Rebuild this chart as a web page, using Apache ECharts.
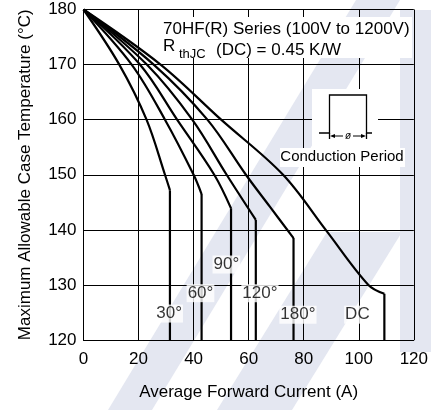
<!DOCTYPE html>
<html>
<head>
<meta charset="utf-8">
<script src="https://cdn.jsdelivr.net/npm/echarts@6/dist/echarts.min.js"></script>
<style>
  html, body { margin: 0; padding: 0; background: #fff; }
  #chart { width: 431px; height: 410px; }
</style>
</head>
<body>
<div id="chart"></div>
<script>
// conduction angles, one curve each
const curveNames = ['30°', '60°', '90°', '120°', '180°', 'DC'];

// average forward current (A) / max case temperature (°C)
// last point of each list is the bottom of the vertical drop
const current30 = [0, 13, 22.9, 29.6, 31.4, 31.4];
const temp30 = [180, 170, 160, 150, 147.2, 120];
const current60 = [0, 17.5, 29.6, 40, 42.9, 42.9];
const temp60 = [180, 170, 160, 150, 146.5, 120];
const current90 = [0, 20.5, 34, 47.5, 53.6, 53.6];
const temp90 = [180, 170, 160, 150, 143.9, 120];
const current120 = [0, 23, 39.5, 52, 62.6, 62.6];
const temp120 = [180, 170, 160, 150, 141.8, 120];
const current180 = [0, 25.5, 45, 59, 67.7, 76.3, 76.3];
const temp180 = [180, 170, 160, 150, 144.2, 138.5, 120];
const currentDC = [0, 28, 50, 72.5, 88, 103.5, 109.3, 109.3];
const tempDC = [180, 170, 160, 150, 140, 130, 128.4, 120];

// where the angle labels sit (data coords)
const labelCurrent = [31.1, 42.5, 51.9, 64.1, 77.9, 99.5];
const labelTemp = [124.8, 128.5, 133.7, 128.5, 124.6, 124.6];

const xMin = 0, xMax = 120, xStep = 20;
const yMin = 120, yMax = 180, yStep = 10;

const FONT = '"Liberation Sans", Arial, sans-serif';
const WM = '#e4e7f1';

const curves = [
  [current30, temp30], [current60, temp60], [current90, temp90],
  [current120, temp120], [current180, temp180], [currentDC, tempDC]
];

const lineSeries = [];
curves.forEach(function (c, i) {
  const pts = c[0].map(function (x, j) { return [x, c[1][j]]; });
  // the bent part is smooth, the drop after the knee is straight
  lineSeries.push({
    name: curveNames[i],
    type: 'line',
    data: pts.slice(0, -1),
    smooth: 0.35,
    symbol: 'none',
    lineStyle: { color: '#000', width: 2.2 },
    z: 3
  });
  lineSeries.push({
    name: curveNames[i],
    type: 'line',
    data: pts.slice(-2),
    symbol: 'none',
    lineStyle: { color: '#000', width: 2.2 },
    z: 3
  });
});

const labelSeries = {
  type: 'scatter',
  symbolSize: 0,
  data: curveNames.map(function (n, i) {
    return { name: n, value: [labelCurrent[i], labelTemp[i]] };
  }),
  label: {
    show: true,
    position: 'inside',
    formatter: function (p) { return p.name; },
    color: '#000',
    fontFamily: FONT,
    fontSize: 17,
    backgroundColor: '#fff',
    padding: [1, 1, 0, 1]
  },
  z: 5
};

const chart = echarts.init(document.getElementById('chart'), null, { renderer: 'canvas' });

chart.setOption({
  animation: false,
  backgroundColor: '#fff',
  textStyle: { fontFamily: FONT },
  grid: { left: 83.5, right: 17, top: 9.5, bottom: 70 },
  xAxis: {
    type: 'value',
    min: xMin, max: xMax, interval: xStep,
    name: 'Average Forward Current (A)',
    nameLocation: 'middle',
    nameGap: 44,
    nameTextStyle: { color: '#000', fontSize: 17, fontFamily: FONT },
    axisLine: { lineStyle: { color: '#000', width: 1 } },
    axisTick: { show: false },
    axisLabel: { color: '#000', fontSize: 17, margin: 11, fontFamily: FONT },
    splitLine: { show: true, lineStyle: { color: '#000', width: 1 } }
  },
  yAxis: {
    type: 'value',
    min: yMin, max: yMax, interval: yStep,
    name: 'Maximum Allowable Case Temperature (°C)',
    nameLocation: 'middle',
    nameGap: 50,
    nameTextStyle: { color: '#000', fontSize: 17, fontFamily: FONT },
    axisLine: { show: true, lineStyle: { color: '#000', width: 1 } },
    axisTick: { show: false },
    axisLabel: { color: '#000', fontSize: 17, margin: 7, fontFamily: FONT },
    splitLine: { show: true, lineStyle: { color: '#000', width: 1 } }
  },
  graphic: [
    // faint watermark behind the plot
    { type: 'polygon', z: -10, silent: true,
      shape: { points: [[108, 410], [152, 410], [400, 0], [356, 0]] },
      style: { fill: WM } },
    { type: 'polygon', z: -10, silent: true,
      shape: { points: [[217, 410], [292, 410], [402, 232], [327, 232]] },
      style: { fill: WM } },
    { type: 'rect', z: -10, silent: true,
      shape: { x: 400, y: 10, width: 31, height: 342 },
      style: { fill: WM } },

    // series / thermal resistance note
    { type: 'rect', z: 10, shape: { x: 160, y: 17, width: 252, height: 41 }, style: { fill: '#fff' } },
    { type: 'text', z: 11, x: 163, y: 29,
      style: { text: '70HF(R) Series (100V to 1200V)', font: '17px ' + FONT, fill: '#000',
               verticalAlign: 'middle', textVerticalAlign: 'middle' } },
    { type: 'text', z: 11, x: 163, y: 46,
      style: { text: 'R', font: '17px ' + FONT, fill: '#000',
               verticalAlign: 'middle', textVerticalAlign: 'middle' } },
    { type: 'text', z: 11, x: 179, y: 54,
      style: { text: 'thJC', font: '13px ' + FONT, fill: '#000',
               verticalAlign: 'middle', textVerticalAlign: 'middle' } },
    { type: 'text', z: 11, x: 216, y: 50,
      style: { text: '(DC) = 0.45 K/W', font: '17px ' + FONT, fill: '#000',
               verticalAlign: 'middle', textVerticalAlign: 'middle' } },

    // conduction period inset
    { type: 'rect', z: 10, shape: { x: 312, y: 89, width: 66, height: 60 }, style: { fill: '#fff' } },
    { type: 'rect', z: 10, shape: { x: 280, y: 148, width: 125, height: 19 }, style: { fill: '#fff' } },
    { type: 'polyline', z: 11,
      shape: { points: [[319, 133], [329.5, 133], [329.5, 95], [366.5, 95], [366.5, 133], [372, 133]] },
      style: { stroke: '#000', lineWidth: 1.3, fill: null } },
    { type: 'line', z: 11, shape: { x1: 329.5, y1: 133, x2: 329.5, y2: 139 }, style: { stroke: '#000', lineWidth: 1.3 } },
    { type: 'line', z: 11, shape: { x1: 366.5, y1: 133, x2: 366.5, y2: 139 }, style: { stroke: '#000', lineWidth: 1.3 } },
    { type: 'line', z: 11, shape: { x1: 333, y1: 136, x2: 343, y2: 136 }, style: { stroke: '#000', lineWidth: 1 } },
    { type: 'line', z: 11, shape: { x1: 353, y1: 136, x2: 363, y2: 136 }, style: { stroke: '#000', lineWidth: 1 } },
    { type: 'polygon', z: 11, shape: { points: [[330, 136], [335, 134], [335, 138]] }, style: { fill: '#000' } },
    { type: 'polygon', z: 11, shape: { points: [[366, 136], [361, 134], [361, 138]] }, style: { fill: '#000' } },
    { type: 'text', z: 11, x: 348, y: 136,
      style: { text: 'ø', font: 'italic 10px ' + FONT, fill: '#000',
               align: 'center', textAlign: 'center', verticalAlign: 'middle', textVerticalAlign: 'middle' } },
    { type: 'text', z: 11, x: 342, y: 157,
      style: { text: 'Conduction Period', font: '15px ' + FONT, fill: '#000',
               align: 'center', textAlign: 'center', verticalAlign: 'middle', textVerticalAlign: 'middle' } }
  ],
  series: lineSeries.concat([labelSeries])
});
</script>
</body>
</html>
